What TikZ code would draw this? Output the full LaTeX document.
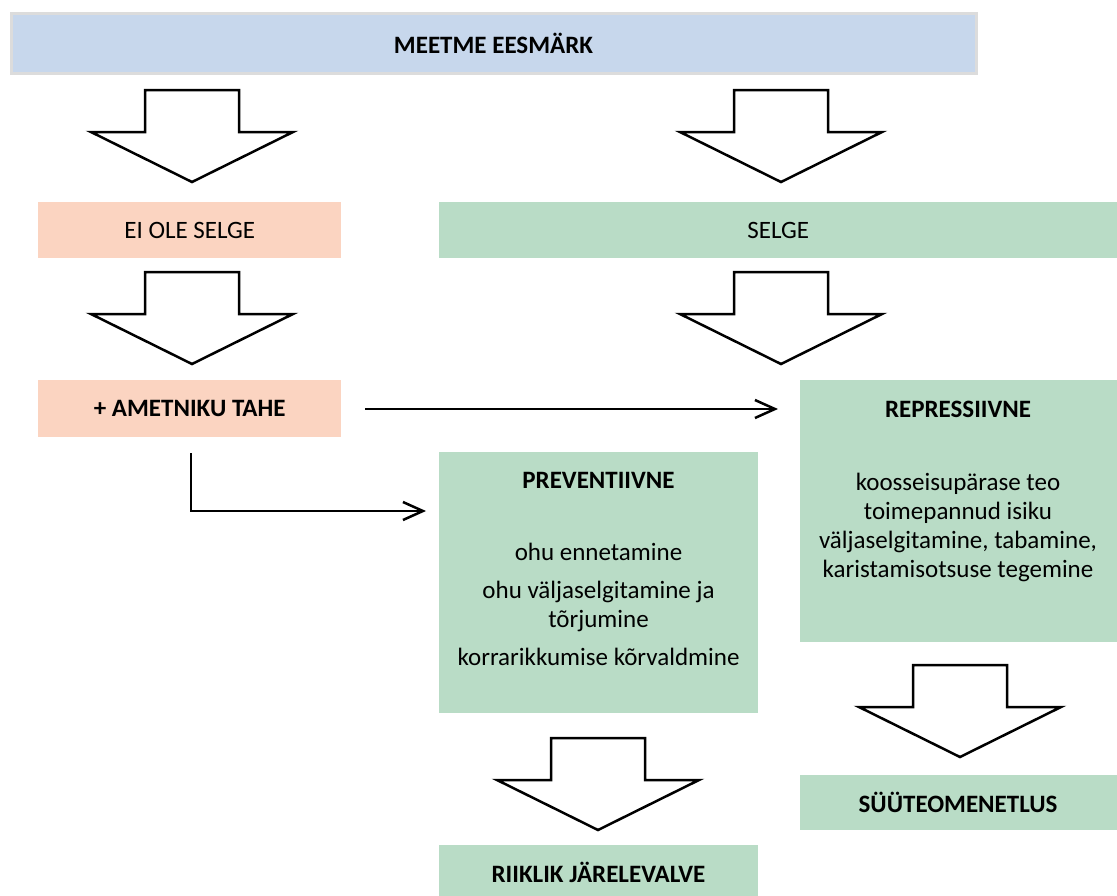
\documentclass[tikz,border=0pt]{standalone}
\usepackage{fontspec}
\setmainfont{Carlito}
\usetikzlibrary{arrows.meta,positioning}

\definecolor{goalblue}{HTML}{C7D7EC}
\definecolor{goalrim}{HTML}{DCDCDC}
\definecolor{unclearred}{HTML}{FBD4C1}
\definecolor{cleargreen}{HTML}{B9DCC6}

\tikzset{
  box/.style={rectangle, inner sep=0pt, anchor=north west, align=center},
  boxtext/.style={inner sep=0pt, align=center, font=\fontsize{25}{29}\selectfont},
  conn/.style={line width=2.5pt, -{Straight Barb[length=20pt, width=18pt, line width=2.5pt]}},
  bigarrow/.pic={
    \draw[line width=2.5pt, line join=miter, fill=white]
      (-47,0) -- (47,0) -- (47,42) -- (101,42) -- (0,92) -- (-101,42) -- (-47,42) -- cycle;
  }
}

\begin{document}
\begin{tikzpicture}[x=1pt, y=-1pt]
  \useasboundingbox (0,0) rectangle (1117,895);

  % boxes
  \node[box, fill=goalblue, draw=goalrim, line width=3pt, minimum width=965pt, minimum height=60pt] (goal) at (9.5,11.5) {};
  \node[box, fill=unclearred, minimum width=303pt, minimum height=56pt] (unclear) at (38,202) {};
  \node[box, fill=cleargreen, minimum width=678pt, minimum height=56pt] (clear) at (439,202) {};
  \node[box, fill=unclearred, minimum width=303pt, minimum height=57pt] (will) at (38,380) {};
  \node[box, fill=cleargreen, minimum width=317pt, minimum height=262pt] (repr) at (800,380) {};
  \node[box, fill=cleargreen, minimum width=319pt, minimum height=261pt] (prev) at (439,452) {};
  \node[box, fill=cleargreen, minimum width=319pt, minimum height=55pt] (surv) at (439,845) {};
  \node[box, fill=cleargreen, minimum width=317pt, minimum height=55pt] (crim) at (800,775) {};

  % texts
  \node[boxtext, font=\fontsize{25}{29}\selectfont\bfseries] (goaltext) at (goal.center) {MEETME EESMÄRK};
  \node[boxtext] (uncleartext) at (unclear.center) {EI OLE SELGE};
  \node[boxtext] (cleartext) at (clear.center) {SELGE};
  \node[boxtext, font=\fontsize{25}{29}\selectfont\bfseries] (willtext) at (will.center) {+ AMETNIKU TAHE};
  \node[boxtext, font=\fontsize{25}{29}\selectfont\bfseries] (reprtitle) at (958,409) {REPRESSIIVNE};
  \node[boxtext] (reprbody) at (958,527) {koosseisupärase teo\\toimepannud isiku\\väljaselgitamine, tabamine,\\karistamisotsuse tegemine};
  \node[boxtext, font=\fontsize{25}{29}\selectfont\bfseries] (prevtitle) at (598.5,480) {PREVENTIIVNE};
  \node[boxtext] (prevbody) at (598.5,604) {ohu ennetamine\\[9pt]ohu väljaselgitamine ja\\tõrjumine\\[9pt]korrarikkumise kõrvaldmine};
  \node[boxtext, font=\fontsize{25}{29}\selectfont\bfseries] (survtext) at (598.5,872) {RIIKLIK JÄRELEVALVE};
  \node[boxtext, font=\fontsize{25}{29}\selectfont\bfseries] (crimtext) at (958,802) {SÜÜTEOMENETLUS};

  % block arrows
  \pic at (192,90) {bigarrow};
  \pic at (781,90) {bigarrow};
  \pic at (192,272) {bigarrow};
  \pic at (781,272) {bigarrow};
  \pic at (598,738) {bigarrow};
  \pic at (960,665) {bigarrow};

  % connectors
  \draw[conn] ([xshift=24pt]will.east |- 0,409) -- ([xshift=-22pt]repr.west |- 0,409);
  \draw[conn] ([yshift=-16pt]will.south -| 191,0) |- ([xshift=-13pt]prev.west |- 0,511);
\end{tikzpicture}
\end{document}
